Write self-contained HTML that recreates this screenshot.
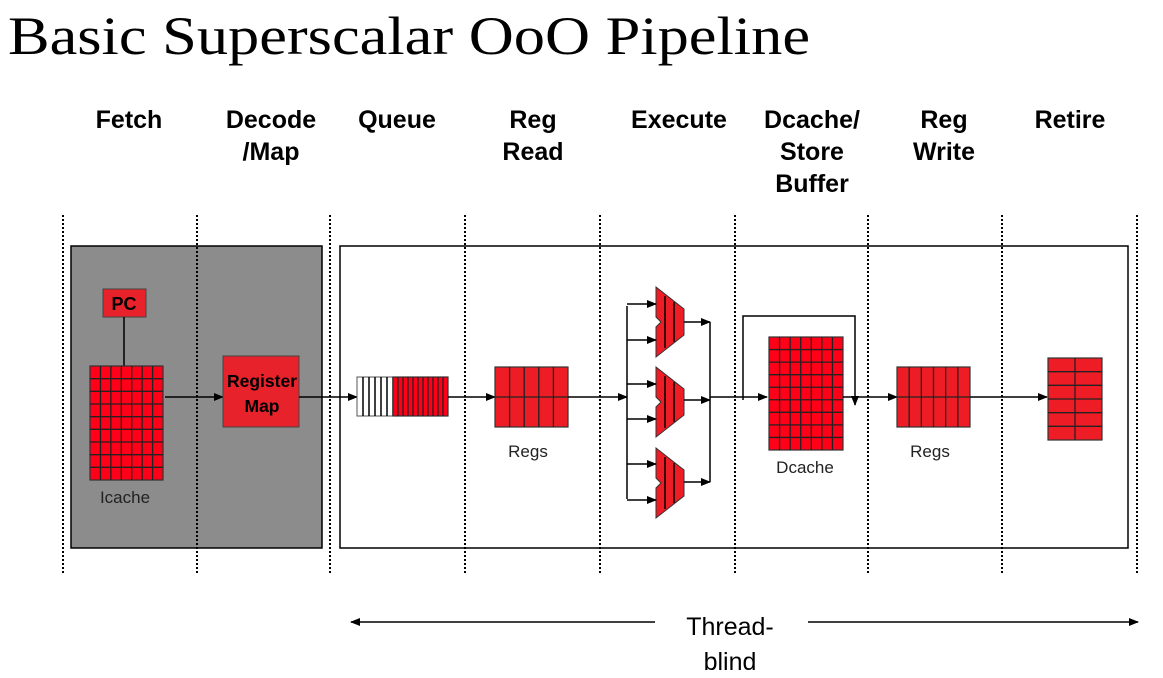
<!DOCTYPE html>
<html><head><meta charset="utf-8"><style>
html,body{margin:0;padding:0;background:#fff;width:1163px;height:678px;overflow:hidden}
svg{display:block}
.h{font-family:"Liberation Sans",sans-serif;font-weight:bold;font-size:25px;text-anchor:middle;fill:#000}
.l{font-family:"Liberation Sans",sans-serif;font-size:17px;text-anchor:middle;fill:#222}
</style></head><body>
<svg id="s" width="1163" height="678" xmlns="http://www.w3.org/2000/svg">
<defs><marker id="a" markerWidth="10" markerHeight="8" refX="9" refY="4" orient="auto" markerUnits="userSpaceOnUse"><path d="M0,0 L10,4 L0,8 z" fill="#000"/></marker></defs>
<text x="8" y="54" font-family="Liberation Serif,serif" font-size="54" fill="#000" textLength="802" lengthAdjust="spacingAndGlyphs">Basic Superscalar OoO Pipeline</text>
<text class="h" x="129" y="128">Fetch</text>
<text class="h" x="271" y="128">Decode</text><text class="h" x="271" y="160">/Map</text>
<text class="h" x="397" y="128">Queue</text>
<text class="h" x="533" y="128">Reg</text><text class="h" x="533" y="160">Read</text>
<text class="h" x="679" y="128">Execute</text>
<text class="h" x="812" y="128">Dcache/</text><text class="h" x="812" y="160">Store</text><text class="h" x="812" y="192">Buffer</text>
<text class="h" x="944" y="128">Reg</text><text class="h" x="944" y="160">Write</text>
<text class="h" x="1070" y="128">Retire</text>
<rect x="71" y="246" width="251" height="302" fill="#8c8c8c" stroke="#000" stroke-width="1.5"/>
<rect x="340" y="246" width="788" height="302" fill="#fff" stroke="#000" stroke-width="1.5"/>
<g id="dots" stroke="#000" stroke-width="2" stroke-dasharray="2,2"></g>
<g id="g"></g>
<text class="l" x="125" y="503">Icache</text>
<text class="l" x="528" y="457">Regs</text>
<text class="l" x="805" y="473">Dcache</text>
<text class="l" x="930" y="457">Regs</text>
<text x="730" y="635" font-family="Liberation Sans,sans-serif" font-size="25" text-anchor="middle">Thread-</text>
<text x="730" y="670" font-family="Liberation Sans,sans-serif" font-size="25" text-anchor="middle">blind</text>
<g stroke="#000" stroke-width="1.5" fill="none">
<line x1="655" y1="622" x2="351" y2="622" marker-end="url(#a)"/>
<line x1="808" y1="622" x2="1138" y2="622" marker-end="url(#a)"/>
</g>
</svg>
<script>
var NS="http://www.w3.org/2000/svg",g=document.getElementById("g"),d=document.getElementById("dots");
function el(t,a,p){var e=document.createElementNS(NS,t);for(var k in a)e.setAttribute(k,a[k]);(p||g).appendChild(e);return e}
[63,197,330,465,600,735,868,1002,1137].forEach(function(x){el("line",{x1:x,y1:215,x2:x,y2:575},d)});
function grid(x,y,w,h,c,r,fill){el("rect",{x:x,y:y,width:w,height:h,fill:fill||"#ee1c25",stroke:"#333","stroke-width":1.2});
for(var i=1;i<c;i++)el("line",{x1:x+w*i/c,y1:y,x2:x+w*i/c,y2:y+h,stroke:"#222","stroke-width":1.3});
for(var j=1;j<r;j++)el("line",{x1:x,y1:y+h*j/r,x2:x+w,y2:y+h*j/r,stroke:"#222","stroke-width":1.3});}
function ln(x1,y1,x2,y2,arr){var a={x1:x1,y1:y1,x2:x2,y2:y2,stroke:"#000","stroke-width":1.5};if(arr)a["marker-end"]="url(#a)";el("line",a)}
el("rect",{x:103,y:289,width:43,height:28,fill:"#e8222a",stroke:"#444"});
el("text",{x:124,y:310,"font-family":"Liberation Sans,sans-serif","font-weight":"bold","font-size":"18","text-anchor":"middle"}).textContent="PC";
ln(124,317,124,366);
grid(90,366,73,114,7,9,"#ff0018");
ln(165,397,223,397,1);
el("rect",{x:223,y:356,width:76,height:71,fill:"#e8222a",stroke:"#444"});
var t=el("text",{x:262,y:387,"font-family":"Liberation Sans,sans-serif","font-weight":"bold","font-size":"17.5","text-anchor":"middle"});t.textContent="Register";
t=el("text",{x:262,y:412,"font-family":"Liberation Sans,sans-serif","font-weight":"bold","font-size":"17.5","text-anchor":"middle"});t.textContent="Map";
ln(299,397,357,397,1);
el("rect",{x:357,y:377,width:36,height:39,fill:"#fff",stroke:"#555"});
for(var i=1;i<7;i++)ln(357+i*6,377,357+i*6,416);
grid(393,377,55,39,11,1,"#ff0018");
ln(448,397,495,397,1);
grid(495,367,73,60,5,2);
ln(568,397,627,397,1);
ln(627,306,627,499);
[[287,304,340,322],[367,384,419,400],[448,464,500,482]].forEach(function(q){var y=q[0];
el("path",{d:"M656,"+y+" L684,"+(y+22)+" L684,"+(y+48)+" L656,"+(y+70)+" L656,"+(y+40)+" L661,"+(y+35)+" L656,"+(y+30)+" z",fill:"#ee1c25",stroke:"#333"});
ln(665,y+9,665,y+61,0);ln(674,y+15,674,y+55,0);
ln(627,q[1],656,q[1],1);ln(627,q[2],656,q[2],1);ln(684,q[3],710,q[3],1);});
ln(710,322,710,482);
ln(710,397,767,397,1);
grid(769,337,74,113,7,9,"#ff0018");
el("polyline",{points:"743,400 743,316 855,316 855,405",fill:"none",stroke:"#000","stroke-width":1.5,"marker-end":"url(#a)"});
ln(843,397,897,397,1);
grid(897,367,73,60,6,2);
ln(970,397,1047,397,1);
grid(1048,358,54,82,2,6);
</script>
</body></html>
